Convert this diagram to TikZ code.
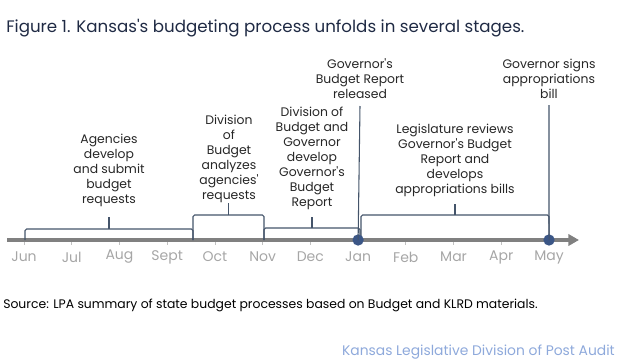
\documentclass[tikz,border=0pt]{standalone}
\usepackage{fontspec}
\setmainfont{Poppins}
\usetikzlibrary{positioning,arrows.meta}
\definecolor{titlenavy}{HTML}{1F2A44}
\definecolor{slate}{HTML}{44546A}
\definecolor{dotblue}{HTML}{3B5686}
\definecolor{axisgray}{HTML}{808080}
\definecolor{monthgray}{HTML}{A6A6A6}
\definecolor{auditblue}{HTML}{8EA9DB}
\newcommand{\axisy}{240}
\newcommand{\monthw}{47.73}
\newcommand{\ap}{\textquotesingle}
% bracket under a stage: x from, x to, bar y, nub y
\newcommand{\stagebrace}[4]{%
  \pgfmathsetmacro{\bmid}{(#1+#2)/2}
  \draw[brace] (#1,\axisy) -- (#1,#3) -- (#2,#3) -- (#2,\axisy);
  \draw[brace] (\bmid,#3) -- (\bmid,#4);}

\tikzset{
  stage/.style={align=center, inner sep=0pt, text=black!85,
    font=\fontsize{9.3}{11.25}\selectfont},
  month/.style={text=monthgray, inner sep=0pt, font=\fontsize{10.5}{12}\selectfont},
  brace/.style={draw=slate, line width=0.8pt, rounded corners=1.2pt},
  event/.style={circle, fill=dotblue, inner sep=0pt, minimum size=8.5pt},
}

\begin{document}
\begin{tikzpicture}[x=0.75pt, y=-0.75pt]
  \useasboundingbox (0,0) rectangle (621,361);
  %\draw[help lines] (0,0) grid (621,361);
  \node[anchor=base west, inner sep=0pt, text=titlenavy, font=\fontsize{12.5}{14}\selectfont]
    (title) at (6,32) {Figure 1. Kansas\ap s budgeting process unfolds in several stages.};

  % time axis
  \coordinate (axstart) at (7,\axisy);
  \coordinate (axend) at (579,\axisy);
  \foreach \m [count=\i from 0] in {Jun,Jul,Aug,Sept,Oct,Nov,Dec,Jan,Feb,Mar,Apr,May}{
    \coordinate (t\i) at ({24+\monthw*\i},\axisy);
    \draw[monthgray!70, line width=0.6pt] (t\i) -- ++(0,5);
    \node[month] (m\i) at ({24+\monthw*\i},257) {\m};
  }
  \draw[axisgray, line width=2.3pt, -{Triangle[length=8pt, width=8.5pt]}] (axstart) -- (axend);

  % stages
  \stagebrace{25}{193}{229}{217}
  \node[stage] (agencies) at (109,170) {Agencies\\develop\\and submit\\budget\\requests};
  \stagebrace{193}{264}{215}{203}
  \node[stage] (analyze) at (229,159) {Division\\of\\Budget\\analyzes\\agencies\ap\\requests};
  \stagebrace{264}{360}{228}{217}
  \node[stage] (develop) at (312,158) {Division of\\Budget and\\Governor\\develop\\Governor\ap s\\Budget\\Report};
  \stagebrace{361}{549}{215}{204}
  \node[stage] (legis) at (455,160) {Legislature reviews\\Governor\ap s Budget\\Report and\\develops\\appropriations bills};

  % events
  \node[stage] (released) at (360,79) {Governor\ap s\\Budget Report\\released};
  \node[stage] (signs) at (549,79) {Governor signs\\appropriations\\bill};
  \node[event] (jandot) at (t7) {};
  \node[event] (maydot) at (t11) {};
  \draw[slate, line width=0.8pt] (jandot.center) -- (360,106);
  \draw[slate, line width=0.8pt] (maydot.center) -- (549,105);

  \node[anchor=base west, inner sep=0pt, font=\fontsize{9.3}{11}\selectfont]
    (source) at (3,308) {Source: LPA summary of state budget processes based on Budget and KLRD materials.};
  \node[anchor=base east, inner sep=0pt, text=auditblue, font=\fontsize{10.4}{12}\selectfont]
    (audit) at (615,355) {Kansas Legislative Division of Post Audit};
\end{tikzpicture}
\end{document}
